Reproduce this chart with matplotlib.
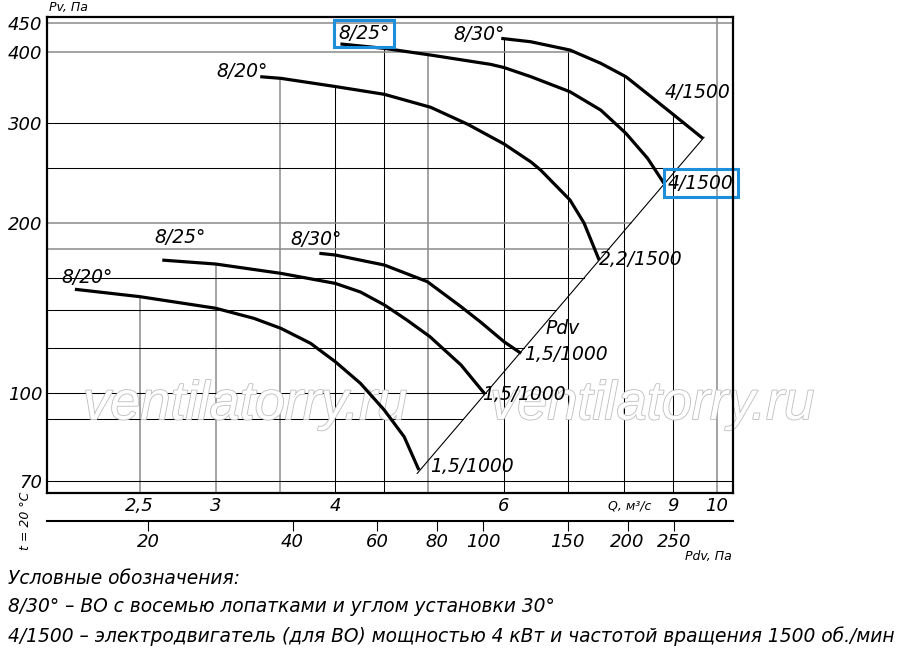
import numpy as np
import matplotlib
matplotlib.use("Agg")
import matplotlib.pyplot as plt
import matplotlib.patheffects as pe
from matplotlib.ticker import NullLocator, FixedLocator, FixedFormatter

# performance curves, Q in m3/s, Pv in Pa
q_820_hi = [3.34, 3.51, 4.01, 4.5, 5.03, 5.5, 6.0, 6.40, 6.55, 7.03, 7.27, 7.54]
p_820_hi = [362, 359.6, 347.6, 337, 319.7, 298.3, 275.4, 256, 247.8, 219.3, 199.8, 171.8]
q_825_hi = [4.05, 4.5, 5.03, 5.81, 6.0, 6.40, 7.03, 7.57, 8.04, 8.47, 8.81]
p_825_hi = [413.5, 406.2, 395.3, 380.6, 375.7, 362, 340.5, 316, 287.6, 259.8, 234.7]
q_830_hi = [5.96, 6.40, 7.03, 7.57, 8.04, 8.54, 9.07, 9.67]
p_830_hi = [423, 417.2, 403.4, 382.2, 362, 333.8, 307.6, 281.8]
q_820_lo = [2.14, 2.50, 3.0, 3.29, 3.51, 3.77, 4.0, 4.25, 4.5, 4.72, 4.89]
p_820_lo = [152.6, 148.1, 141.3, 135.6, 130.2, 122.5, 113.7, 104.1, 93.4, 83.8, 73.2]
q_825_lo = [2.64, 3.0, 3.51, 4.0, 4.25, 4.5, 4.75, 5.02, 5.41, 5.73]
p_825_lo = [171.8, 169.1, 162.8, 156.3, 150.9, 143.2, 134.7, 125.9, 112.2, 99.7]
q_830_lo = [3.85, 4.0, 4.5, 4.99, 5.41, 5.67, 6.0, 6.25]
p_830_lo = [176.6, 175.4, 168.4, 157.4, 142.2, 133.6, 123.3, 117.6]

# Pdv line (dynamic pressure), ends of the thin diagonal
diag_q = [4.87, 9.70]
diag_p = [72.2, 283]
pdv_coef = 3.07  # Pdv = coef * Q^2, from the lower scale

q_ticks = [2.5, 3, 4, 6, 9, 10]
q_ticklabels = ["2,5", "3", "4", "6", "9", "10"]
p_ticks = [70, 100, 200, 300, 400, 450]
pdv_ticks = [20, 40, 60, 80, 100, 150, 200, 250]

grid_p_grey = [450, 400, 200, 180]
grid_p_black = [300, 250, 160, 140, 120, 100, 90, 70]
grid_q_grey = [2.5, 3, 3.5, 5, 10]
grid_q_black = [4, 4.5, 6, 7, 8, 9]

curve_labels = [
    ("8/25°", 4.285, 432, True),
    ("8/20°", 3.20, 370, False),
    ("8/30°", 5.65, 430, False),
    ("4/1500", 9.55, 340, False),
    ("4/1500", 9.63, 235, True),
    ("2,2/1500", 8.34, 172, False),
    ("Pdv", 6.90, 130, False),
    ("1,5/1000", 6.96, 117, False),
    ("1,5/1000", 6.29, 99.6, False),
    ("1,5/1000", 5.56, 74.2, False),
    ("8/25°", 2.758, 188, False),
    ("8/30°", 3.816, 187, False),
    ("8/20°", 2.204, 160, False),
]

legend_lines = [
    "Условные обозначения:",
    "8/30° – ВО с восемью лопатками и углом установки 30°",
    "4/1500 – электродвигатель (для ВО) мощностью 4 кВт и частотой вращения 1500 об./мин",
]

Q_MIN, Q_MAX = 2.0, 10.4
P_MIN, P_MAX = 66.6, 462

curves = [
    (q_820_hi, p_820_hi), (q_825_hi, p_825_hi), (q_830_hi, p_830_hi),
    (q_820_lo, p_820_lo), (q_825_lo, p_825_lo), (q_830_lo, p_830_lo),
]


def top_at(qv):
    # grid verticals stop at the highest curve above them
    tops = [np.interp(np.log(qv), np.log(q), np.log(p))
            for q, p in curves if q[0] <= qv <= q[-1]]
    return np.exp(max(tops)) if tops else P_MAX


def right_at(pv):
    # grid horizontals stop at the Pdv line or at the curve they meet
    if diag_p[0] <= pv <= diag_p[1]:
        return np.exp(np.interp(np.log(pv), np.log(diag_p), np.log(diag_q)))
    if pv < diag_p[0]:
        return Q_MAX
    hits = [np.exp(np.interp(np.log(pv), np.log(p[::-1]), np.log(q[::-1])))
            for q, p in curves if p[-1] <= pv <= p[0]]
    return max(hits) if hits else Q_MAX


plt.rcParams["font.family"] = "DejaVu Sans"
plt.rcParams["font.style"] = "italic"

fig = plt.figure(figsize=(9, 6.49), dpi=100)
ax = fig.add_axes([0.0519, 0.2399, 0.7626, 0.7344])
ax.set_xscale("log")
ax.set_yscale("log")
ax.set_xlim(Q_MIN, Q_MAX)
ax.set_ylim(P_MIN, P_MAX)

for qv in grid_q_grey + grid_q_black:
    grey = qv in grid_q_grey
    ax.plot([qv, qv], [P_MIN, top_at(qv)], color="#8a8a8a" if grey else "black",
            lw=1.1 if grey else 0.75, zorder=1)
for pv in grid_p_grey + grid_p_black:
    grey = pv in grid_p_grey
    ax.plot([Q_MIN, right_at(pv)], [pv, pv], color="#8a8a8a" if grey else "black",
            lw=1.1 if grey else 0.75, zorder=1)

# watermark
for xa in (0.289, 0.882):
    ax.text(xa, 0.185, "ventilatorry.ru", transform=ax.transAxes, fontsize=39,
            fontstyle="italic", family="Liberation Sans", color="white",
            ha="center", va="center", zorder=2,
            path_effects=[pe.withStroke(linewidth=1.2, foreground="#bdbdbd")])

for q, p in curves:
    ax.plot(q, p, color="black", lw=2.3, solid_capstyle="butt",
            solid_joinstyle="round", zorder=4)
ax.plot(diag_q, diag_p, color="black", lw=0.8, zorder=4)

for txt, qv, pv, boxed in curve_labels:
    kw = {}
    if boxed:
        kw["bbox"] = dict(boxstyle="square,pad=0.22", fc="none", ec="#1b8fdc", lw=2.2)
    ax.text(qv, pv, txt, fontsize=13.5, ha="center", va="center", zorder=5, **kw)

for s in ax.spines.values():
    s.set_linewidth(1.6)
    s.set_zorder(6)

ax.xaxis.set_major_locator(FixedLocator(q_ticks))
ax.xaxis.set_major_formatter(FixedFormatter(q_ticklabels))
ax.yaxis.set_major_locator(FixedLocator(p_ticks))
ax.yaxis.set_major_formatter(FixedFormatter([str(v) for v in p_ticks]))
ax.xaxis.set_minor_locator(NullLocator())
ax.yaxis.set_minor_locator(NullLocator())
ax.tick_params(axis="both", length=0, labelsize=13)
ax.tick_params(axis="x", pad=3)
ax.tick_params(axis="y", pad=3)

sec = ax.secondary_xaxis(-0.058, functions=(
    lambda q: pdv_coef * np.asarray(q) ** 2,
    lambda p: np.sqrt(np.clip(p, 1e-9, None) / pdv_coef)))
sec.xaxis.set_major_locator(FixedLocator(pdv_ticks))
sec.xaxis.set_major_formatter(FixedFormatter([str(v) for v in pdv_ticks]))
sec.xaxis.set_minor_locator(NullLocator())
sec.tick_params(direction="out", length=7, width=0.8, pad=2, labelsize=13)
for s in sec.spines.values():
    s.set_linewidth(1.5)

fig.text(0.0756, 0.989, "Pv, Па", fontsize=9, ha="center", va="center")
fig.text(0.0278, 0.197, "t = 20 °C", fontsize=9, rotation=90, ha="center", va="center")
fig.text(0.70, 0.2203, "Q, м³/с", fontsize=9, ha="center", va="center")
fig.text(0.787, 0.143, "Pdv, Па", fontsize=9, ha="center", va="center")

for i, line in enumerate(legend_lines):
    fig.text(0.009, 1 - (578 + 29 * i) / 649, line, fontsize=13.4, ha="left", va="center")

fig.savefig("out.png", dpi=100)
